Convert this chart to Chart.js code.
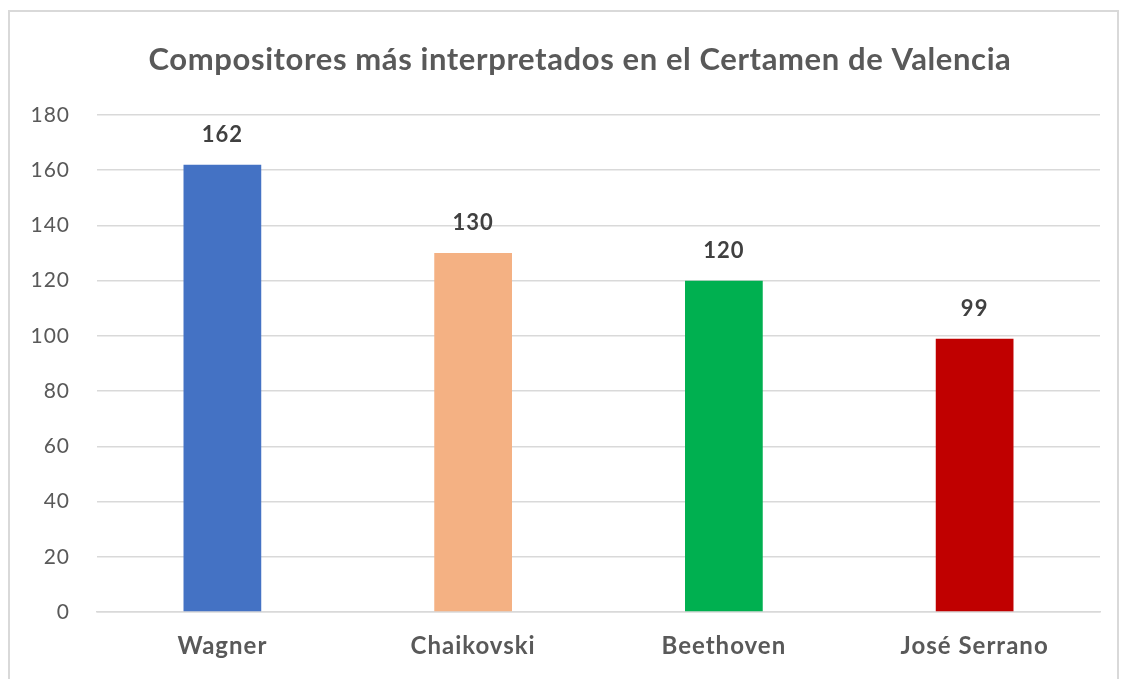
<!DOCTYPE html>
<html><head><meta charset="utf-8">
<script src="https://cdn.jsdelivr.net/npm/chart.js@4/dist/chart.umd.min.js"></script>
<style>
html,body{margin:0;padding:0;background:#fff;width:1121px;height:679px;overflow:hidden}
#frame{position:absolute;left:8px;top:10px;width:1111px;height:680px;border:2px solid #d9d9d9;box-sizing:border-box}
#wrap{position:absolute;left:0;top:0;width:1121px;height:679px}
</style></head>
<body>
<div id="frame"></div>
<div id="wrap"><canvas id="c" width="1121" height="679"></canvas></div>
<script>
const titleText = "Compositores más interpretados en el Certamen de Valencia";
const categories = ["Wagner", "Chaikovski", "Beethoven", "José Serrano"];
const values = [162, 130, 120, 99];
const barColors = ["#4472C4", "#F4B183", "#00B050", "#C00000"];
const yTicks = [0, 20, 40, 60, 80, 100, 120, 140, 160, 180];

const FONT = "Lato, 'Open Sans', sans-serif";

const spacingPlugin = {
  id: 'spacing',
  beforeDraw(chart) { chart.ctx.letterSpacing = '1px'; }
};
const titlePlugin = {
  id: 'customTitle',
  afterDraw(chart) {
    const ctx = chart.ctx;
    ctx.save();
    ctx.letterSpacing = '0.6px';
    ctx.font = "bold 31px " + FONT;
    ctx.fillStyle = "#595959";
    ctx.textAlign = "center";
    ctx.textBaseline = "middle";
    ctx.fillText(titleText, 580, 60);
    ctx.restore();
  }
};
const labelPlugin = {
  id: 'valueLabels',
  afterDatasetsDraw(chart) {
    const ctx = chart.ctx;
    const meta = chart.getDatasetMeta(0);
    ctx.save();
    ctx.letterSpacing = '1px';
    ctx.font = "bold 22px " + FONT;
    ctx.fillStyle = "#404040";
    ctx.textAlign = "center";
    ctx.textBaseline = "middle";
    meta.data.forEach((bar, i) => {
      ctx.fillText(String(values[i]), bar.x, bar.y - 30);
    });
    ctx.restore();
  }
};

new Chart(document.getElementById('c'), {
  type: 'bar',
  data: {
    labels: categories,
    datasets: [{
      data: values,
      backgroundColor: barColors,
      borderWidth: 0,
      categoryPercentage: 1,
      barPercentage: 0.31
    }]
  },
  options: {
    responsive: false,
    animation: false,
    devicePixelRatio: 1,
    layout: { padding: { top: 115, right: 21, left: 0, bottom: 0 } },
    plugins: { legend: { display: false }, title: { display: false }, tooltip: { enabled: false } },
    scales: {
      x: {
        grid: { display: false, drawTicks: false },
        border: { display: true, color: '#d9d9d9', width: 1.5 },
        ticks: { color: '#595959', font: { family: FONT, size: 24, weight: 'bold' }, padding: 20 },
        afterFit(s) { s.height = 67; }
      },
      y: {
        min: 0, max: 180,
        afterBuildTicks(s) { s.ticks = yTicks.map(v => ({ value: v })); },
        grid: { color: '#d9d9d9', lineWidth: 1.5, drawTicks: false },
        border: { display: false },
        ticks: { color: '#595959', font: { family: FONT, size: 21 }, padding: 27 },
        afterFit(s) { s.width = 97; }
      }
    }
  },
  plugins: [spacingPlugin, titlePlugin, labelPlugin]
});
</script>
</body></html>
